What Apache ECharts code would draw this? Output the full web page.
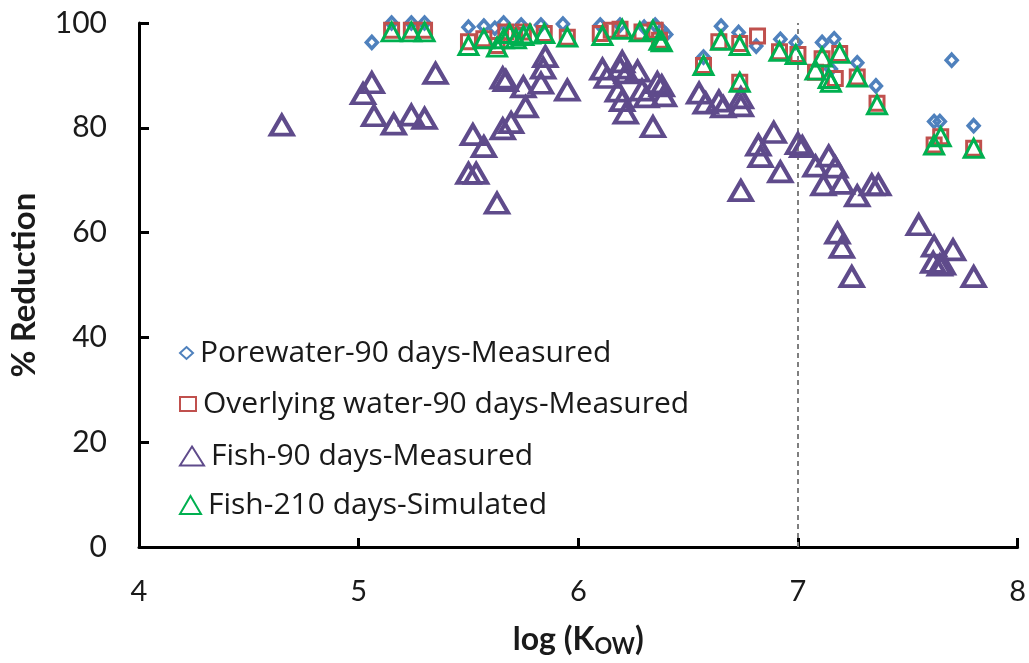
<!DOCTYPE html>
<html>
<head>
<meta charset="utf-8">
<script src="https://cdn.jsdelivr.net/npm/echarts@6/dist/echarts.min.js"></script>
<style>
  html, body { margin: 0; padding: 0; background: #fff; }
  #chart { width: 1029px; height: 663px; }
</style>
</head>
<body>
<div id="chart"></div>
<script>
// Percent reduction versus log(Kow), points as [logKow, % reduction]
const seriesNames = [
  'Porewater-90 days-Measured',
  'Overlying water-90 days-Measured',
  'Fish-90 days-Measured',
  'Fish-210 days-Simulated'
];

const porewater = [
  [5.06, 96.3], [5.15, 100], [5.24, 100], [5.30, 100], [5.50, 99.2], [5.57, 99.4],
  [5.62, 99.0], [5.66, 100], [5.74, 99.6], [5.83, 99.6], [5.93, 99.8], [6.10, 99.6],
  [6.19, 99.6], [6.30, 99.2], [6.35, 99.6], [6.38, 98.7], [6.40, 97.8], [6.57, 93.5],
  [6.65, 99.4], [6.73, 98.2], [6.81, 95.6], [6.92, 96.9], [6.99, 96.3], [7.11, 96.3],
  [7.165, 97.0], [7.15, 91.2], [7.27, 92.4], [7.355, 88.0], [7.70, 92.9], [7.62, 81.2],
  [7.646, 81.2], [7.80, 80.4]
];

const overlying = [
  [5.15, 98.6], [5.24, 98.6], [5.30, 98.6], [5.50, 96.4], [5.57, 97.0], [5.63, 95.7],
  [5.67, 98.3], [5.71, 97.6], [5.75, 98.3], [5.845, 98.0], [5.95, 97.3], [6.10, 98.0],
  [6.15, 98.6], [6.19, 98.8], [6.29, 98.3], [6.35, 98.6], [6.37, 96.7], [6.57, 91.9],
  [6.64, 96.4], [6.735, 96.1], [6.735, 88.7], [6.816, 97.5], [6.916, 94.5], [7.0, 94.0],
  [7.08, 90.6], [7.11, 93.2], [7.19, 94.2], [7.17, 89.4], [7.27, 89.7], [7.36, 84.7],
  [7.62, 76.7], [7.65, 78.3], [7.80, 76.1]
];

const fish90 = [
  [4.65, 80.5], [5.02, 86.5], [5.06, 88.6], [5.07, 82.3], [5.16, 80.7], [5.24, 82.4],
  [5.30, 81.8], [5.35, 90.4], [5.50, 71.3], [5.535, 71.3], [5.52, 78.7], [5.57, 76.4],
  [5.63, 65.6], [5.656, 79.8], [5.694, 81.0], [5.656, 89.5], [5.67, 89.0], [5.75, 87.8],
  [5.76, 84.0], [5.83, 88.5], [5.84, 91.4], [5.85, 93.6], [5.95, 87.2], [6.11, 91.2],
  [6.13, 89.6], [6.18, 87.0], [6.19, 91.4], [6.20, 92.6], [6.20, 85.2], [6.22, 90.5],
  [6.216, 82.8], [6.27, 90.8], [6.29, 87.2], [6.31, 85.9], [6.34, 80.2], [6.36, 88.6],
  [6.38, 88.0], [6.39, 86.1], [6.55, 86.6], [6.58, 84.7], [6.64, 85.1], [6.66, 84.0],
  [6.74, 85.7], [6.74, 84.2], [6.74, 68.0], [6.82, 76.7], [6.83, 74.5], [6.89, 79.1],
  [6.92, 71.6], [7.00, 77.0], [7.02, 76.4], [7.08, 72.7], [7.14, 74.6], [7.17, 72.5],
  [7.116, 69.1], [7.20, 69.4], [7.27, 67.0], [7.336, 69.1], [7.366, 69.1], [7.18, 59.9],
  [7.20, 57.2], [7.245, 51.6], [7.55, 61.5], [7.62, 57.4], [7.706, 56.7], [7.616, 54.3],
  [7.646, 53.8], [7.66, 54.0], [7.80, 51.6]
];

const fish210 = [
  [5.15, 98.3], [5.24, 98.3], [5.30, 98.3], [5.50, 95.7], [5.57, 97.0], [5.63, 95.4],
  [5.66, 97.0], [5.686, 98.0], [5.716, 97.0], [5.75, 97.6], [5.78, 97.9], [5.845, 98.0],
  [5.95, 97.3], [6.11, 97.6], [6.20, 98.8], [6.28, 98.3], [6.34, 98.6], [6.37, 96.7],
  [6.38, 96.4], [6.57, 91.9], [6.65, 96.7], [6.735, 95.7], [6.735, 88.7], [6.916, 94.6],
  [6.99, 94.0], [7.08, 91.0], [7.11, 93.5], [7.19, 94.2], [7.14, 89.4], [7.15, 88.7],
  [7.27, 89.7], [7.36, 84.4], [7.62, 76.7], [7.65, 78.3], [7.80, 76.1]
];

const xTicks = [4, 5, 6, 7, 8];
const yTicks = [0, 20, 40, 60, 80, 100];
const thresholdLogKow = 7;

const colors = ['#4F81BD', '#C0504D', '#5F4B8B', '#00B050'];
const symbols = ['diamond', 'rect', 'triangle', 'triangle'];
const sizes = [[11, 12], [14, 14], [22, 19], [19, 18]];
const strokes = [3.5, 3, 4, 3];
const datasets = [porewater, overlying, fish90, fish210];

const chart = echarts.init(document.getElementById('chart'));

const legendTops = [352, 403, 455, 504];
const legends = seriesNames.map((name, i) => ({
  data: [name],
  left: 174,
  top: legendTops[i] - 19,
  itemWidth: sizes[i][0] + 2,
  itemHeight: sizes[i][1],
  itemGap: 0,
  selectedMode: false,
  textStyle: { fontFamily: 'Open Sans', fontSize: 30, color: '#1a1a1a', padding: [0, 0, 0, 2] }
}));

const series = seriesNames.map((name, i) => ({
  name: name,
  type: 'scatter',
  data: datasets[i],
  symbol: symbols[i],
  symbolSize: sizes[i],
  itemStyle: {
    color: 'rgba(0,0,0,0)',
    borderColor: colors[i],
    borderWidth: strokes[i],
    opacity: 1
  },
  emphasis: { disabled: true },
  z: 3 + i
}));

// Dashed reference line at log Kow = 7
series[0].markLine = {
  silent: true,
  symbol: ['none', 'none'],
  label: { show: false },
  lineStyle: { color: '#7f7f7f', type: [5, 4], width: 2 },
  data: [{ xAxis: thresholdLogKow }]
};

chart.setOption({
  animation: false,
  grid: { left: 137, right: 11, top: 23, bottom: 116, containLabel: false },
  legend: legends,
  xAxis: {
    type: 'value',
    min: xTicks[0],
    max: xTicks[xTicks.length - 1],
    interval: 1,
    name: '{a|log (K}{b|OW}{a|)}',
    nameLocation: 'middle',
    nameGap: 74,
    nameTextStyle: {
      rich: {
        a: { fontFamily: 'Lato', fontWeight: 'bold', fontSize: 32, color: '#1a1a1a' },
        b: { fontFamily: 'Lato', fontWeight: 'bold', fontSize: 22, color: '#1a1a1a', padding: [15, 0, 0, 0] }
      }
    },
    axisLine: { show: true, onZero: false, lineStyle: { color: '#000', width: 3 } },
    axisTick: { show: true, inside: true, length: 9, lineStyle: { color: '#000', width: 3 } },
    axisLabel: {
      margin: 30,
      fontFamily: 'Lato',
      fontSize: 29,
      color: '#1a1a1a',
      formatter: v => xTicks.includes(v) ? String(v) : ''
    },
    splitLine: { show: false }
  },
  yAxis: {
    type: 'value',
    min: yTicks[0],
    max: yTicks[yTicks.length - 1],
    interval: 20,
    name: '% Reduction',
    nameLocation: 'middle',
    nameGap: 98,
    nameRotate: 90,
    nameTextStyle: { fontFamily: 'Lato', fontWeight: 'bold', fontSize: 33, color: '#1a1a1a' },
    axisLine: { show: true, onZero: false, lineStyle: { color: '#000', width: 3 } },
    axisTick: { show: true, inside: true, length: 10, lineStyle: { color: '#000', width: 3 } },
    axisLabel: {
      margin: 32,
      fontFamily: 'Lato',
      fontSize: 30,
      color: '#1a1a1a',
      formatter: v => yTicks.includes(v) ? String(v) : ''
    },
    splitLine: { show: false }
  },
  series: series
});
</script>
</body>
</html>
